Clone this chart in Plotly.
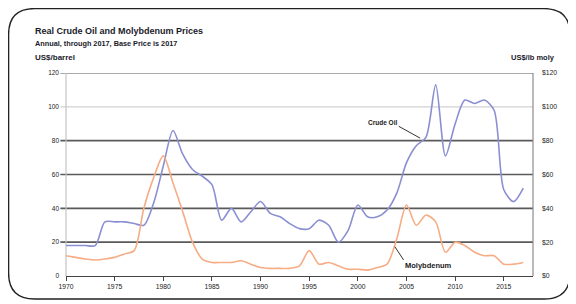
import plotly.graph_objects as go

years = list(range(1970, 2018))
crude_oil = [18, 18, 18, 18, 32, 32, 32, 31, 30, 43, 65, 86, 72, 63, 59, 54,
             33, 40, 32, 38, 44, 37, 35, 31, 28, 28, 33, 30, 20, 27, 42, 35,
             35, 39, 49, 67, 77, 82, 113, 71, 90, 104, 102, 104, 98, 51, 44, 52]
molybdenum = [12, 11, 10, 9.5, 10, 11, 13, 15, 40, 58, 71, 55, 38, 20, 10, 8,
              8, 8, 9, 7, 5, 4.5, 4.5, 4.5, 6, 15, 7, 8, 6, 4, 4, 3.5,
              5, 7, 22, 42, 30, 36, 32, 14, 20, 18, 14, 12, 12, 7, 7, 8]
x_ticks = list(range(1970, 2020, 5))
y_ticks = [0, 20, 40, 60, 80, 100, 120]
dark_grid = [20, 40, 60, 80]
light_grid = [100]

# page is shown with an 8px body margin; work in page pixels and shift
OFF = 8
W, H = 576 - OFF, 304 - OFF
L, R, T, B = 66, 533, 73, 276  # plot area in page pixels


def px(x):
    return (x - L) / (R - L)


def py(y):
    return (B - y) / (B - T)


FONT = "Liberation Sans"

fig = go.Figure()
fig.add_trace(go.Scatter(x=years, y=crude_oil, mode="lines", name="Crude Oil",
                         line=dict(color="#8a8fd2", width=1.6, shape="spline", smoothing=0.8),
                         yaxis="y"))
fig.add_trace(go.Scatter(x=years, y=molybdenum, mode="lines", name="Molybdenum",
                         line=dict(color="#f6ac84", width=1.6, shape="spline", smoothing=0.8),
                         yaxis="y2"))

shapes = []
for g in dark_grid:
    shapes.append(dict(type="line", xref="paper", yref="y", x0=-0.012, x1=1, y0=g, y1=g,
                       line=dict(color="#5a5a5a", width=1.6), layer="below"))
for g in light_grid:
    shapes.append(dict(type="line", xref="paper", yref="y", x0=-0.012, x1=1, y0=g, y1=g,
                       line=dict(color="#d2d2d2", width=1.4), layer="below"))
shapes.append(dict(type="line", xref="paper", yref="y", x0=-0.012, x1=1, y0=120, y1=120,
                   line=dict(color="#8c8c8c", width=1.4), layer="below"))
shapes.append(dict(type="line", xref="paper", yref="paper", x0=1, x1=1, y0=0, y1=1,
                   line=dict(color="#8c8c8c", width=1.2), layer="below"))
shapes.append(dict(type="line", xref="paper", yref="paper", x0=0, x1=0, y0=0, y1=1,
                   line=dict(color="#c4c4c4", width=1.2), layer="below"))

# rounded outer frame (page pixels)
x0, x1, y0, y1, r = 8.6, 570, 8.6, 299, 26
path = (f"M {px(x0)},{py(y0 + r)} Q {px(x0)},{py(y0)} {px(x0 + r)},{py(y0)} "
        f"L {px(x1 - r)},{py(y0)} Q {px(x1)},{py(y0)} {px(x1)},{py(y0 + r)} "
        f"L {px(x1)},{py(y1 - r)} Q {px(x1)},{py(y1)} {px(x1 - r)},{py(y1)} "
        f"L {px(x0 + r)},{py(y1)} Q {px(x0)},{py(y1)} {px(x0)},{py(y1 - r)} Z")
shapes.append(dict(type="path", xref="paper", yref="paper", path=path,
                   line=dict(color="#222222", width=1.4)))

# annotation pointer lines (data coordinates)
shapes.append(dict(type="line", xref="x", yref="y", x0=2004.2, y0=88.5, x1=2006.4, y1=81.5,
                   line=dict(color="#333333", width=1)))
shapes.append(dict(type="line", xref="x", yref="y", x0=2003.8, y0=17.3, x1=2004.7, y1=9.5,
                   line=dict(color="#333333", width=1)))

annotations = [
    dict(text="<b>Real Crude Oil and Molybdenum Prices</b>", xref="paper", yref="paper",
         x=px(33), y=py(31), xanchor="left", yanchor="middle", showarrow=False,
         font=dict(family=FONT, size=9, color="#1a1a2a")),
    dict(text="<b>Annual, through 2017, Base Price is 2017</b>", xref="paper", yref="paper",
         x=px(33), y=py(43.5), xanchor="left", yanchor="middle", showarrow=False,
         font=dict(family=FONT, size=7.3, color="#1a1a2a")),
    dict(text="<b>US$/barrel</b>", xref="paper", yref="paper",
         x=px(33), y=py(57), xanchor="left", yanchor="middle", showarrow=False,
         font=dict(family=FONT, size=8, color="#1a1a2a")),
    dict(text="<b>US$/lb moly</b>", xref="paper", yref="paper",
         x=px(557), y=py(57), xanchor="right", yanchor="middle", showarrow=False,
         font=dict(family=FONT, size=7.5, color="#1a1a2a")),
    dict(text="<b>Crude Oil</b>", xref="x", yref="y", x=2004.2, y=90.5,
         xanchor="right", yanchor="middle", showarrow=False,
         font=dict(family=FONT, size=6.5, color="#1a1a1a")),
    dict(text="<b>Molybdenum</b>", xref="x", yref="y", x=2004.6, y=6.5,
         xanchor="left", yanchor="middle", showarrow=False,
         font=dict(family=FONT, size=7.5, color="#1a1a1a")),
]

fig.update_layout(
    width=W, height=H,
    margin=dict(l=L - OFF, r=576 - R, t=T - OFF, b=304 - B, pad=0),
    paper_bgcolor="white", plot_bgcolor="white",
    showlegend=False,
    shapes=shapes, annotations=annotations,
    xaxis=dict(range=[1970, 2018], tickvals=x_ticks, showgrid=False, zeroline=False,
               showline=True, linecolor="#444444", linewidth=1.4,
               ticks="outside", ticklen=4, tickcolor="#444444",
               tickfont=dict(family=FONT, size=6.8, color="#222222")),
    yaxis=dict(range=[0, 120], tickvals=y_ticks, showgrid=False, zeroline=False,
               showline=False, ticks="", ticklabelstandoff=6,
               tickfont=dict(family=FONT, size=6.5, color="#222222")),
    yaxis2=dict(range=[0, 120], tickvals=y_ticks, ticktext=[f"${v}" for v in y_ticks],
                overlaying="y", side="right", showgrid=False, zeroline=False,
                showline=False, ticks="", ticklabelstandoff=8,
                tickfont=dict(family=FONT, size=6.8, color="#222222")),
)

fig.write_html("out.html")
